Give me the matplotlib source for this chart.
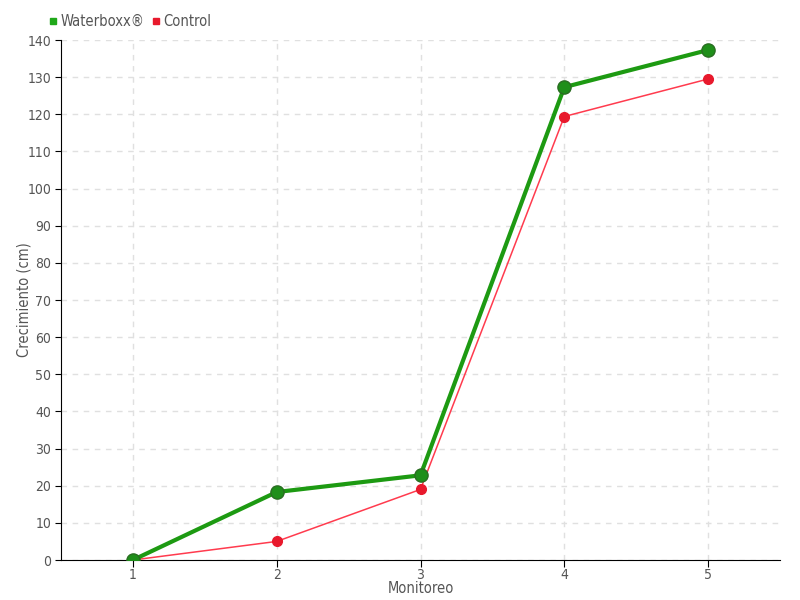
import matplotlib
matplotlib.use("Agg")
import matplotlib.pyplot as plt
from matplotlib.lines import Line2D

plt.rcParams['font.family'] = ['DejaVu Sans']
plt.rcParams['font.stretch'] = 'condensed'

monitoreo = [1, 2, 3, 4, 5]
waterboxx = [0, 18.3, 22.8, 127.3, 137.3]
control = [0, 5.0, 19.0, 119.4, 129.5]
yticks = list(range(0, 141, 10))

fig = plt.figure(figsize=(8, 6), dpi=100)
ax = fig.add_axes([61/800, 40/600, 719/800, 520/600])

ax.plot(monitoreo, control, color='#ff3b4e', lw=1.1, marker='o', ms=7,
        mfc='#e8192c', mec='#e8192c', zorder=3, label='Control')
ax.plot(monitoreo, waterboxx, color='#1d9a12', lw=3, marker='o', ms=9.5,
        mfc='#1f8f1a', mec='#2a6e22', mew=1, zorder=4, label='Waterboxx®')

ax.set_xlim(0.5, 5.5)
ax.set_ylim(0, 140)
ax.set_xticks(monitoreo)
ax.set_yticks(yticks)
ax.grid(True, color='#e0e0e0', ls=(0, (4, 4)), lw=1)
ax.set_axisbelow(True)
for s in ['top', 'right']:
    ax.spines[s].set_visible(False)
ax.spines['left'].set_color('black')
ax.spines['bottom'].set_color('black')
ax.tick_params(axis='both', colors='black', labelcolor='#555555', labelsize=10, length=4)
ax.tick_params(axis='y', pad=3)
ax.tick_params(axis='x', length=5, pad=1)
ax.set_xlabel('Monitoreo', color='#555555', fontsize=10.5, labelpad=-1)
ax.set_ylabel('Crecimiento (cm)', color='#555555', fontsize=10.5)
ax.yaxis.set_label_coords(-29/719, 0.5)

handles = [Line2D([], [], ls='none', marker='s', ms=5, color='#1fa81a'),
           Line2D([], [], ls='none', marker='s', ms=5, color='#e8192c')]
fig.legend(handles, ['Waterboxx®', 'Control'], loc='upper left', bbox_to_anchor=(49/800, 1 - 14/600),
           ncol=2, frameon=False, fontsize=10.5, handlelength=0.6, handletextpad=0.2,
           columnspacing=0.5, labelcolor='#555555', borderaxespad=0, borderpad=0)

fig.savefig('out.png', dpi=100)
